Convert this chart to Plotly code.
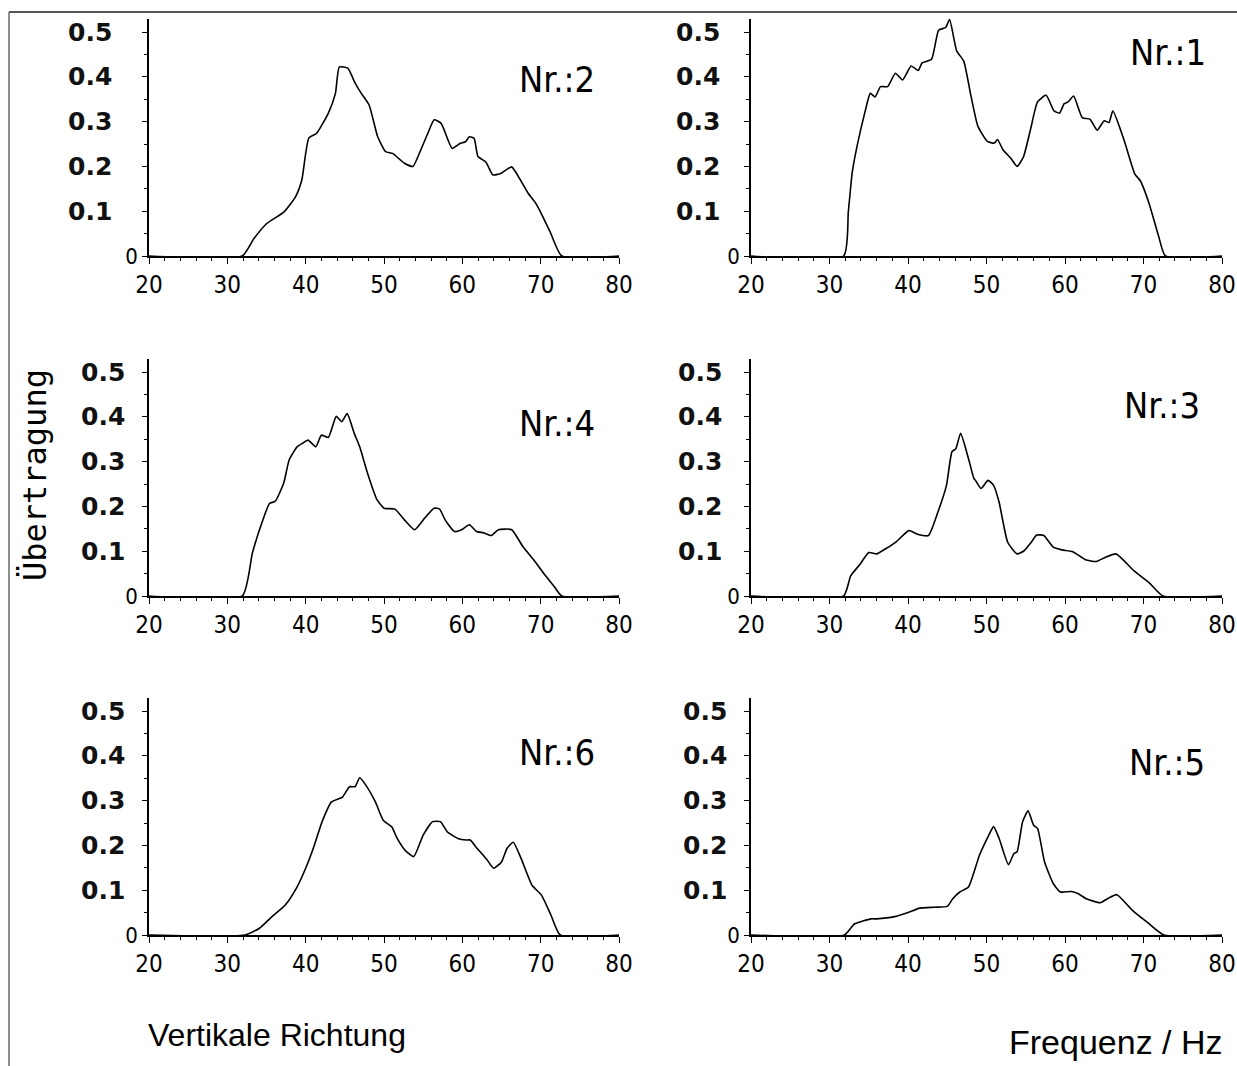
import plotly.graph_objects as go

W, H = 1237, 1066

# ---------------- data ----------------
freq_nr2 = [20, 31.9, 33.4, 35.0, 37.2, 38.7, 39.5, 40.4, 41.4, 42.9, 43.8, 44.3, 45.4, 46.2, 47.1, 48.1,
            49.2, 50.2, 51.1, 52.6, 53.7, 54.7, 55.6, 56.4, 57.3, 58.7, 59.7, 60.4, 60.9, 61.5, 62.0, 63.0,
            63.9, 64.9, 66.3, 67.3, 68.4, 69.4, 70.3, 71.3, 72.7, 80]
val_nr2 = [0, 0, 0.039, 0.072, 0.098, 0.132, 0.169, 0.263, 0.274, 0.319, 0.363, 0.422, 0.419, 0.39, 0.363,
           0.337, 0.266, 0.233, 0.229, 0.207, 0.2, 0.237, 0.274, 0.304, 0.296, 0.24, 0.251, 0.255, 0.266,
           0.263, 0.222, 0.21, 0.181, 0.184, 0.199, 0.173, 0.14, 0.117, 0.087, 0.05, 0, 0]

freq_nr1 = [20, 31.8, 32.4, 32.9, 33.5, 34.5, 35.2, 35.8, 36.5, 37.4, 38.4, 39.3, 40.4, 41.3, 41.8, 43.0,
            43.9, 44.8, 45.3, 46.2, 47.1, 48.0, 48.9, 50.1, 51.0, 51.4, 52.1, 53.1, 53.9, 54.7, 55.6, 56.5,
            57.6, 58.6, 59.3, 59.9, 60.4, 61.1, 62.2, 63.2, 64.1, 65.0, 65.6, 66.1, 67.5, 68.9, 69.6, 70.7,
            71.9, 72.8, 80]
val_nr1 = [0, 0, 0.099, 0.187, 0.244, 0.32, 0.363, 0.355, 0.378, 0.378, 0.408, 0.393, 0.424, 0.414, 0.431,
           0.439, 0.504, 0.51, 0.528, 0.458, 0.435, 0.359, 0.29, 0.256, 0.252, 0.26, 0.237, 0.218, 0.2,
           0.221, 0.282, 0.344, 0.359, 0.324, 0.319, 0.34, 0.344, 0.357, 0.309, 0.305, 0.281, 0.302, 0.298,
           0.324, 0.26, 0.183, 0.168, 0.118, 0.046, 0, 0]

freq_nr4 = [20, 31.9, 33.2, 34.4, 35.4, 36.1, 37.2, 37.9, 38.9, 39.6, 40.3, 41.3, 42.0, 42.9, 43.9, 44.6,
            45.3, 46.2, 46.9, 47.9, 49.1, 50.0, 51.4, 52.6, 53.9, 55.2, 56.4, 57.1, 57.8, 59.0, 59.9, 60.9,
            61.8, 62.7, 63.7, 64.6, 66.3, 67.7, 69.1, 70.5, 71.7, 72.7, 80]
val_nr4 = [0, 0, 0.096, 0.163, 0.207, 0.211, 0.252, 0.304, 0.333, 0.341, 0.348, 0.333, 0.359, 0.354, 0.401,
           0.389, 0.407, 0.363, 0.333, 0.274, 0.215, 0.196, 0.194, 0.17, 0.148, 0.174, 0.196, 0.194, 0.17,
           0.144, 0.148, 0.159, 0.144, 0.141, 0.135, 0.148, 0.148, 0.111, 0.081, 0.048, 0.022, 0, 0]

freq_nr3 = [20, 31.8, 32.7, 33.9, 35.0, 36.0, 37.1, 38.5, 40.1, 41.2, 42.6, 43.8, 44.9, 45.6, 46.1, 46.7,
            47.7, 48.4, 48.6, 49.3, 50.2, 50.9, 51.6, 52.7, 53.9, 54.8, 55.7, 56.4, 57.3, 58.5, 59.6, 61.0,
            62.6, 64.0, 65.1, 66.5, 68.8, 70.7, 72.5, 80]
val_nr3 = [0, 0, 0.045, 0.071, 0.097, 0.094, 0.105, 0.121, 0.146, 0.138, 0.135, 0.187, 0.247, 0.322, 0.329,
           0.363, 0.307, 0.262, 0.258, 0.24, 0.258, 0.247, 0.21, 0.12, 0.094, 0.101, 0.12, 0.136, 0.135,
           0.109, 0.103, 0.099, 0.081, 0.077, 0.086, 0.094, 0.056, 0.03, 0, 0]

freq_nr6 = [20, 32.2, 34.1, 35.7, 37.4, 38.8, 40.0, 41.1, 42.1, 43.3, 44.7, 45.6, 46.3, 46.9, 47.7, 48.9,
            49.9, 51.0, 51.7, 52.7, 53.8, 55.0, 56.2, 57.2, 58.1, 59.5, 60.5, 61.0, 61.9, 63.1, 64.0, 65.0,
            65.7, 66.5, 67.5, 68.9, 70.1, 71.3, 72.5, 80]
val_nr6 = [0, 0, 0.015, 0.041, 0.067, 0.104, 0.149, 0.2, 0.253, 0.297, 0.308, 0.331, 0.331, 0.351, 0.334,
           0.297, 0.256, 0.241, 0.215, 0.189, 0.175, 0.223, 0.253, 0.253, 0.23, 0.215, 0.212, 0.212, 0.193,
           0.169, 0.149, 0.163, 0.193, 0.207, 0.171, 0.111, 0.089, 0.045, 0, 0]

freq_nr5 = [20, 31.9, 33.2, 35.3, 36.0, 38.3, 40.1, 41.5, 43.4, 45.0, 45.7, 46.6, 47.7, 49.1, 50.3, 50.9,
            51.6, 52.8, 53.5, 53.9, 54.6, 55.3, 56.0, 56.5, 57.4, 58.5, 59.4, 60.8, 61.7, 62.7, 64.5, 65.4,
            66.6, 68.6, 70.5, 72.6, 80]
val_nr5 = [0, 0, 0.025, 0.036, 0.036, 0.041, 0.051, 0.06, 0.062, 0.064, 0.081, 0.096, 0.107, 0.178, 0.223,
           0.242, 0.216, 0.157, 0.182, 0.186, 0.253, 0.277, 0.245, 0.238, 0.163, 0.115, 0.096, 0.097, 0.092,
           0.081, 0.072, 0.081, 0.09, 0.055, 0.028, 0, 0]

panel_names = ["Nr.:2", "Nr.:1", "Nr.:4", "Nr.:3", "Nr.:6", "Nr.:5"]
x_tickvals = [20, 30, 40, 50, 60, 70, 80]
x_ticktext = ["20", "30", "40", "50", "60", "70", "80"]
y_tickvals = [0, 0.1, 0.2, 0.3, 0.4, 0.5]
y_hand_labels = ["0.1", "0.2", "0.3", "0.4", "0.5"]
y_axis_title = "Übertragung"
direction_text = "Vertikale Richtung"
freq_text = "Frequenz / Hz"

series = [(freq_nr2, val_nr2), (freq_nr1, val_nr1), (freq_nr4, val_nr4),
          (freq_nr3, val_nr3), (freq_nr6, val_nr6), (freq_nr5, val_nr5)]

# ---------------- layout geometry (pixels) ----------------
YMAX = 0.53
col_px = [(149, 619), (751, 1222)]
row_base_px = [256, 596, 935]
px_per_unit = 448
hand_x_px = [[90, 698], [103, 700], [103, 705]]
label_pos = [(72.1, 0.393), (73.1, 0.455), (72.1, 0.386), (72.4, 0.426), (72.1, 0.408), (73.0, 0.386)]

plot_font = "Liberation Sans Narrow, DejaVu Sans Condensed, Liberation Sans, sans-serif"
hand_font = "DejaVu Sans, sans-serif"

fig = go.Figure()
annotations = []

for i, (fx, fy) in enumerate(series):
    r, c = divmod(i, 2)
    n = "" if i == 0 else str(i + 1)
    x0, x1 = col_px[c]
    yb = row_base_px[r]
    yt = yb - YMAX * px_per_unit
    fig.add_trace(go.Scatter(x=fx, y=fy, mode="lines",
                             line=dict(color="black", width=1.6, shape="spline", smoothing=0.5),
                             xaxis="x" + n, yaxis="y" + n, showlegend=False, hoverinfo="skip",
                             cliponaxis=True))
    fig.layout["xaxis" + n] = dict(
        domain=[x0 / W, x1 / W], range=[20, 80], anchor="y" + n, automargin=False,
        showgrid=False, zeroline=False, showline=True, linecolor="black", linewidth=1.6,
        tickvals=x_tickvals, ticktext=x_ticktext, ticks="outside", ticklen=6, tickwidth=1.3,
        tickcolor="black", minor=dict(dtick=2, tick0=20, ticks="outside", ticklen=3, tickcolor="black"),
        tickfont=dict(family=plot_font, size=24, color="black"),
    )
    fig.layout["yaxis" + n] = dict(
        domain=[1 - yb / H, 1 - yt / H], range=[0, YMAX], anchor="x" + n, automargin=False,
        showgrid=False, zeroline=False, showline=True, linecolor="black", linewidth=1.6,
        tickvals=y_tickvals, ticktext=["0", "", "", "", "", ""], ticks="outside", ticklen=5,
        tickwidth=1.3, tickcolor="black",
        minor=dict(dtick=0.05, tick0=0, ticks="outside", ticklen=3, tickcolor="black"),
        tickfont=dict(family=plot_font, size=22, color="black"),
    )
    for v, t in zip(y_tickvals[1:], y_hand_labels):
        annotations.append(dict(text="<b>" + t + "</b>", x=hand_x_px[r][c] / W, xref="paper",
                                y=v, yref="y" + n, showarrow=False, xanchor="center", yanchor="middle",
                                font=dict(family=hand_font, size=25, color="#111")))
    lx, ly = label_pos[i]
    annotations.append(dict(text=panel_names[i], x=lx, y=ly, xref="x" + n, yref="y" + n,
                            showarrow=False, xanchor="center", yanchor="middle",
                            font=dict(family=plot_font, size=36, color="black")))

annotations.append(dict(text=y_axis_title, x=35 / W, y=1 - 475 / H, xref="paper", yref="paper",
                        textangle=-90, showarrow=False, xanchor="center", yanchor="middle",
                        font=dict(family="DejaVu Sans Mono, monospace", size=32, color="black")))
annotations.append(dict(text=direction_text, x=277 / W, y=1 - 1035 / H, xref="paper", yref="paper",
                        showarrow=False, xanchor="center", yanchor="middle",
                        font=dict(family="Liberation Sans, sans-serif", size=32, color="black")))
annotations.append(dict(text=freq_text, x=1116 / W, y=1 - 1042 / H, xref="paper", yref="paper",
                        showarrow=False, xanchor="center", yanchor="middle",
                        font=dict(family="Liberation Sans, sans-serif", size=34, color="black")))

shapes = [
    dict(type="line", xref="paper", yref="paper", x0=9 / W, x1=1, y0=1 - 12 / H, y1=1 - 12 / H,
         line=dict(color="#222", width=1.5)),
    dict(type="line", xref="paper", yref="paper", x0=9 / W, x1=9 / W, y0=0, y1=1 - 12 / H,
         line=dict(color="#444", width=1.2)),
]

fig.update_layout(template="none", width=W, height=H, margin=dict(l=0, r=0, t=0, b=0, pad=0),
                  paper_bgcolor="white", plot_bgcolor="white",
                  annotations=annotations, shapes=shapes, showlegend=False)

fig.write_html("out.html")
